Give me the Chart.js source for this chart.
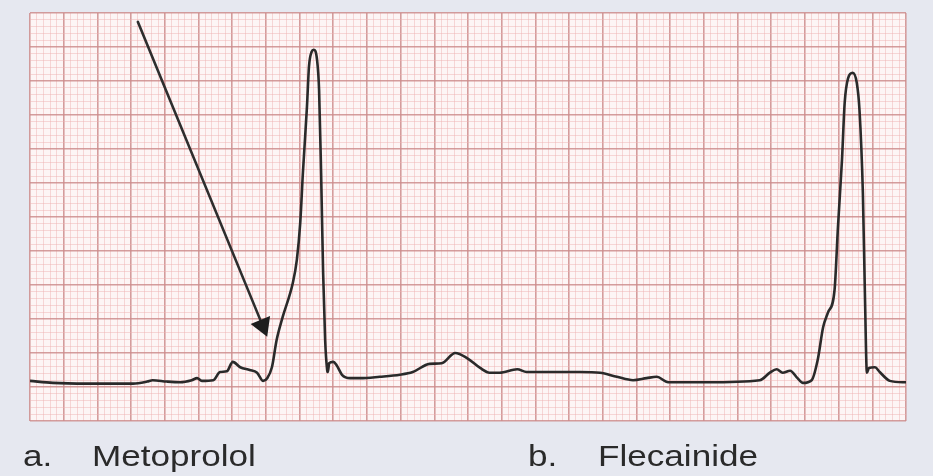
<!DOCTYPE html>
<html>
<head>
<meta charset="utf-8">
<script src="https://cdn.jsdelivr.net/npm/chart.js@4/dist/chart.umd.min.js"></script>
<style>
  html, body { margin: 0; padding: 0; background: #e6e8f0; }
  #wrap { position: relative; width: 933px; height: 476px; overflow: hidden; }
  canvas { position: absolute; left: 0; top: 0; }
  .lbl { position: absolute; top: 441px; font-family: "Liberation Sans", Arial, sans-serif;
         font-size: 30px; line-height: 30px; color: #2a2a2a; white-space: pre;
         transform: scaleX(1.17); transform-origin: 0 0; }
</style>
</head>
<body>
<div id="wrap">
  <canvas id="c" width="933" height="476"></canvas>
  <div class="lbl" id="la" style="left:23px">a.</div>
  <div class="lbl" id="lb" style="left:92px">Metoprolol</div>
  <div class="lbl" id="lc" style="left:528px">b.</div>
  <div class="lbl" id="ld" style="left:598px">Flecainide</div>
</div>
<script>
// ECG trace, in small-box (1 mm) grid units: time (x) and amplitude (y)
const traceX = [0, 3.4, 8.5, 15.3, 17.4, 18.2, 20.3, 22.3, 24.0, 24.8, 25.5, 27.2, 28.2, 29.2, 30.1, 31.2, 32.6, 33.7,
  34.6, 35.2, 35.9, 36.6, 37.5, 39.0, 39.6, 40.1, 40.5, 41.1, 41.4, 41.8, 42.1, 42.6, 42.9, 43.2, 43.5, 43.8, 44.1, 44.2,
  44.4, 45.0, 45.5, 46.3, 47.5, 49.0, 51.9, 54.9, 56.8, 59.3, 61.1, 63.1, 64.8, 66.8, 68.2, 69.7, 72.3, 73.7, 81.6,
  84.6, 87.1, 89.5, 91.5, 93.0, 94.7, 100.4, 108.3, 109.8, 110.8, 111.7, 112.8, 113.9, 114.7, 116.0, 116.9, 117.7,
  118.4, 119.4, 119.9, 120.5, 120.9, 121.4, 122.1, 122.7, 123.1, 123.6, 123.9, 124.2, 124.5, 125.4, 126.1, 127.6, 129.5, 130];
const traceY = [5.9, 5.6, 5.5, 5.5, 5.8, 6.0, 5.8, 5.7, 6.0, 6.3, 5.9, 6.0, 7.2, 7.3, 8.7, 7.9, 7.5, 7.1,
  5.9, 6.3, 7.9, 11.9, 15.3, 20.3, 23.7, 29.1, 36.5, 46.2, 52.1, 54.3, 54.6, 53.1, 48.7, 36.5, 21.8, 11.9, 7.5, 7.2,
  8.5, 8.7, 8.2, 6.8, 6.3, 6.3, 6.5, 6.8, 7.2, 8.4, 8.5, 10.0, 9.3, 7.8, 7.1, 7.1, 7.6, 7.2, 7.2,
  7.1, 6.5, 6.0, 6.3, 6.5, 5.7, 5.7, 6.0, 7.1, 7.6, 7.1, 7.4, 6.3, 5.6, 6.0, 9.0, 13.8,
  15.9, 19.3, 28.5, 38.4, 46.8, 50.4, 51.2, 49.7, 45.7, 33.5, 18.8, 7.1, 7.8, 7.9, 7.2, 5.9, 5.7, 5.7];
// Arrow annotation (grid units): start and tip
const arrowStart = [16.0, 58.7];
const arrowTip = [35.2, 12.4];
// Grid extent (grid units) and major-box size
const gridX = [0, 130];
const gridY = [0, 60];
const majorEvery = 5;

const points = traceX.map((x, i) => ({ x: x, y: traceY[i] }));

const paperBg = {
  id: 'paperBg',
  beforeDraw(chart) {
    const { ctx, chartArea: a } = chart;
    ctx.save();
    ctx.fillStyle = '#fdf5f5';
    ctx.fillRect(a.left, a.top, a.right - a.left, a.bottom - a.top);
    ctx.restore();
  }
};

const arrow = {
  id: 'arrow',
  afterDatasetsDraw(chart) {
    const { ctx, scales: { x, y } } = chart;
    const x0 = x.getPixelForValue(arrowStart[0]), y0 = y.getPixelForValue(arrowStart[1]);
    const x1 = x.getPixelForValue(arrowTip[0]), y1 = y.getPixelForValue(arrowTip[1]);
    const dx = x1 - x0, dy = y1 - y0, len = Math.hypot(dx, dy);
    const ux = dx / len, uy = dy / len;
    const headLen = 18, headHalf = 10.5;
    const bx = x1 - ux * headLen, by = y1 - uy * headLen;
    ctx.save();
    ctx.strokeStyle = '#2e2e2e';
    ctx.fillStyle = '#1e1e1e';
    ctx.lineWidth = 2.6;
    ctx.lineCap = 'round';
    ctx.beginPath();
    ctx.moveTo(x0, y0);
    ctx.lineTo(bx + ux * 2, by + uy * 2);
    ctx.stroke();
    ctx.beginPath();
    ctx.moveTo(x1, y1);
    ctx.lineTo(bx - uy * headHalf, by + ux * headHalf);
    ctx.lineTo(bx + uy * headHalf, by - ux * headHalf);
    ctx.closePath();
    ctx.fill();
    ctx.restore();
  }
};

const gridColor = (c) => (Math.round(c.tick.value) % majorEvery === 0) ? 'rgba(205,140,140,0.85)' : 'rgba(238,178,178,0.6)';
const gridWidth = (c) => (Math.round(c.tick.value) % majorEvery === 0) ? 1.6 : 0.8;

new Chart(document.getElementById('c'), {
  type: 'scatter',
  data: {
    datasets: [{
      data: points,
      showLine: true,
      borderColor: '#2a2a2a',
      borderWidth: 2.6,
      pointRadius: 0,
      pointHoverRadius: 0,
      tension: 0.4,
      cubicInterpolationMode: 'monotone',
      fill: false
    }]
  },
  options: {
    responsive: false,
    animation: false,
    events: [],
    layout: { padding: { left: 30, right: 27, top: 13, bottom: 55 } },
    plugins: { legend: { display: false }, tooltip: { enabled: false } },
    scales: {
      x: {
        type: 'linear', min: gridX[0], max: gridX[1],
        ticks: { display: false, stepSize: 1, autoSkip: false },
        grid: { color: gridColor, lineWidth: gridWidth, drawTicks: false },
        border: { display: false }
      },
      y: {
        type: 'linear', min: gridY[0], max: gridY[1],
        ticks: { display: false, stepSize: 1, autoSkip: false },
        grid: { color: gridColor, lineWidth: gridWidth, drawTicks: false },
        border: { display: false }
      }
    }
  },
  plugins: [paperBg, arrow]
});
</script>
</body>
</html>
